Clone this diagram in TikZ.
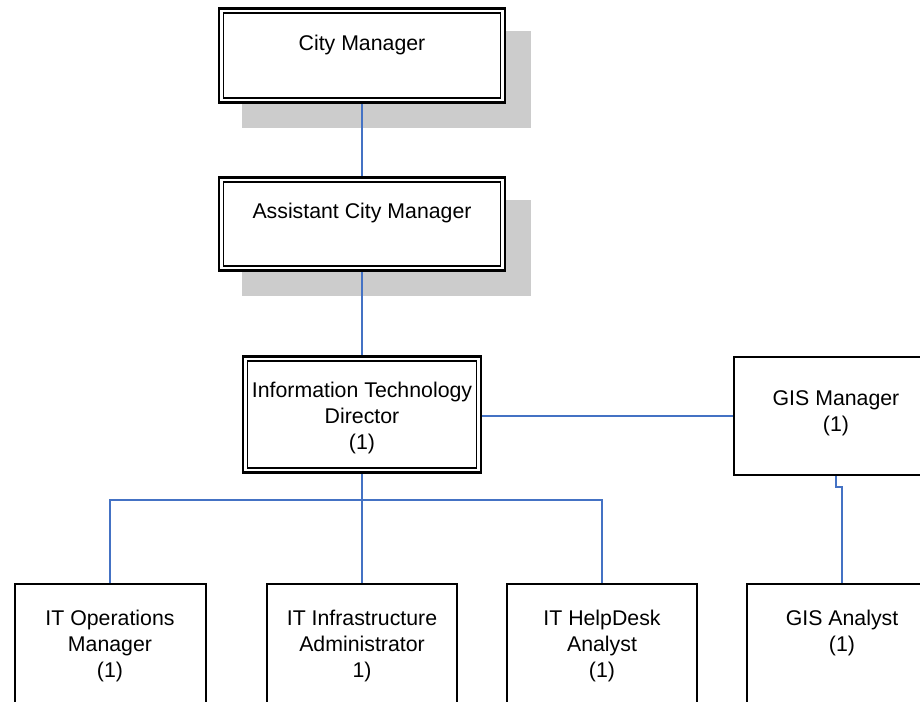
\documentclass[tikz,border=0pt]{standalone}
\usepackage{fontspec}
\setmainfont{Liberation Sans}
\usetikzlibrary{backgrounds}
\definecolor{linkblue}{HTML}{4472C4}
\definecolor{shadowgray}{HTML}{CCCCCC}
\newcommand{\lblstrut}{\rule{0pt}{15.5pt}}
\begin{document}
\begin{tikzpicture}[x=1pt,y=-1pt,
  box/.style={draw=black, fill=white, line width=2pt, inner sep=0pt, rectangle},
  dbox/.style={draw=black, fill=white, line width=2.7pt, inner sep=0pt, rectangle,
    path picture={\draw[line width=1.3pt]
      ([xshift=4.5pt,yshift=-4.5pt]path picture bounding box.north west) rectangle
      ([xshift=-4.5pt,yshift=4.5pt]path picture bounding box.south east);}},
  lbl/.style={align=center, anchor=north, inner sep=0pt, font=\fontsize{21.3pt}{26pt}\selectfont},
  link/.style={draw=linkblue, line width=1.6pt},
  shadow/.style={fill=shadowgray}]
\useasboundingbox (0,0) rectangle (920,701);
\clip (0,0) rectangle (920,701);

% boxes
\node[dbox, minimum width=286pt, minimum height=94pt] (cm)  at (362,55.5) {};
\node[dbox, minimum width=286pt, minimum height=93pt] (acm) at (362,224) {};
\node[dbox, minimum width=238pt, minimum height=116pt] (itd) at (362,414.5) {};
\node[box, minimum width=204pt, minimum height=118pt] (gism) at (836,416) {};
\node[box, minimum width=191pt, minimum height=150pt] (ops)   at (110,659) {};
\node[box, minimum width=190pt, minimum height=150pt] (infra) at (362,659) {};
\node[box, minimum width=190pt, minimum height=150pt] (help)  at (602,659) {};
\node[box, minimum width=190pt, minimum height=150pt] (gisa)  at (842,659) {};

% labels
\node[lbl] (cm-t)    at (362,35)   {\lblstrut City Manager};
\node[lbl] (acm-t)   at (362,203)  {\lblstrut Assistant City Manager};
\node[lbl] (itd-t)   at (362,382)  {\lblstrut Information Technology\\Director\\(1)};
\node[lbl] (gism-t)  at (836,390)  {\lblstrut GIS Manager\\(1)};
\node[lbl] (ops-t)   at (110,610)  {\lblstrut IT Operations\\Manager\\(1)};
\node[lbl] (infra-t) at (362,610)  {\lblstrut IT Infrastructure\\Administrator\\1)};
\node[lbl] (help-t)  at (602,610)  {\lblstrut IT HelpDesk\\Analyst\\(1)};
\node[lbl] (gisa-t)  at (842,610)  {\lblstrut GIS Analyst\\(1)};

\coordinate (bus) at (362,500);

% shadows and connectors behind the boxes
\begin{scope}[on background layer]
  \fill[shadow] ([xshift=24pt,yshift=-24pt]cm.north west) rectangle ([xshift=25pt,yshift=-24pt]cm.south east);
  \fill[shadow] ([xshift=24pt,yshift=-24pt]acm.north west) rectangle ([xshift=25pt,yshift=-24pt]acm.south east);
  \draw[link] (cm.south) -- (acm.north);
  \draw[link] (acm.south) -- (itd.north);
  \draw[link] (itd.east |- gism.west) -- (gism.west);
  \draw[link] (itd.south) -- (bus);
  \draw[link] (ops.north) |- (bus) -| (help.north);
  \draw[link] (bus) -- (infra.north);
  \draw[link] (gism.south) -- ++(0,11) -| (gisa.north);
\end{scope}
\end{tikzpicture}
\end{document}
